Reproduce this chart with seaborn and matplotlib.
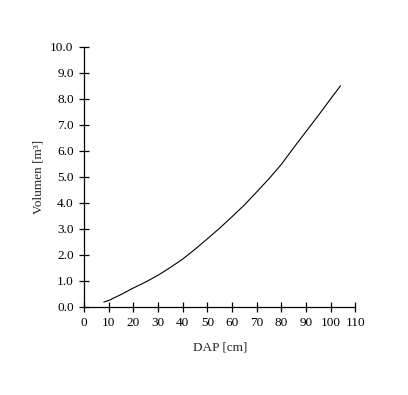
import matplotlib
matplotlib.use("Agg")
import matplotlib.pyplot as plt
import seaborn as sns
import pandas as pd

# Data
dap_cm = [8, 10, 15, 20, 25, 30, 35, 40, 45, 50, 55, 60, 65, 70, 75, 80,
          85, 90, 95, 100, 104]
volumen_m3 = [0.19, 0.25, 0.48, 0.73, 0.96, 1.22, 1.52, 1.84, 2.22, 2.62,
              3.03, 3.47, 3.92, 4.42, 4.93, 5.48, 6.12, 6.74, 7.36, 8.00, 8.50]
x_ticks = list(range(0, 111, 10))
y_ticks = [float(v) for v in range(0, 11)]

df = pd.DataFrame({"DAP": dap_cm, "Volumen": volumen_m3})

sns.set_style("ticks")
plt.rcParams["font.family"] = ["Liberation Serif", "DejaVu Serif"]
plt.rcParams["font.size"] = 9

fig = plt.figure(figsize=(4.08, 3.95), dpi=100)
ax = fig.add_axes([0.206, 0.2228, 0.665, 0.659])

sns.lineplot(data=df, x="DAP", y="Volumen", ax=ax, color="black", linewidth=0.8)

ax.set_xlim(0, 110)
ax.set_ylim(0, 10)
ax.set_xticks(x_ticks)
ax.set_xticklabels([str(t) for t in x_ticks])
ax.set_yticks(y_ticks)
ax.set_yticklabels([f"{t:.1f}" for t in y_ticks])

for side in ["top", "right"]:
    ax.spines[side].set_visible(False)
for side in ["left", "bottom"]:
    ax.spines[side].set_linewidth(0.9)
    ax.spines[side].set_color("black")

ax.tick_params(axis="both", direction="inout", length=7, width=0.9,
               colors="black", labelsize=9.5, pad=4)

ax.set_xlabel("DAP [cm]", fontsize=9.5, labelpad=9)
ax.set_ylabel("Volumen [m³]", fontsize=9.5, labelpad=4)

fig.savefig("out.png", dpi=100)
